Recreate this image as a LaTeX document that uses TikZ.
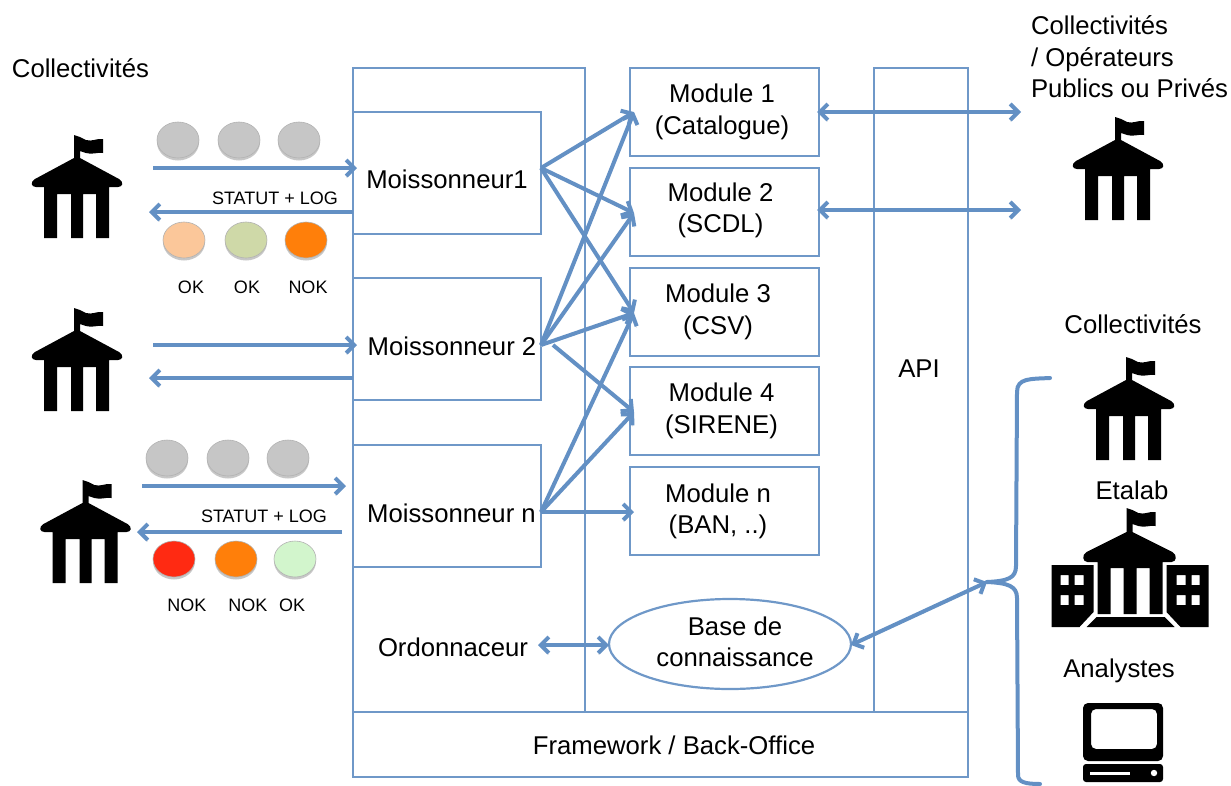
\documentclass[tikz,border=0pt]{standalone}
\usepackage{fontspec}
\setmainfont{Liberation Sans}
\usetikzlibrary{arrows.meta,shapes.geometric}
\definecolor{lineblue}{HTML}{6F98C8}
\definecolor{arrowblue}{HTML}{6390C4}
\definecolor{dotgrey}{HTML}{C6C6C6}
\definecolor{dotpeach}{HTML}{FBC79A}
\definecolor{dotgreen}{HTML}{CFD9A8}
\definecolor{dotorange}{HTML}{FF7F0A}
\definecolor{dotred}{HTML}{FF2A12}
\definecolor{dotpale}{HTML}{D2F5CC}
\tikzset{
  x=1pt,y=-1pt,
  panel/.style={draw=lineblue,line width=2.2pt,fill=none,inner sep=0pt,outer sep=0pt},
  label/.style={inner sep=0pt,outer sep=0pt,align=center,font=\fontsize{25.7}{31.5}\selectfont},
  small/.style={inner sep=0pt,outer sep=0pt,font=\fontsize{18}{22}\selectfont},
  softshadow/.style={preaction={draw=black!13,transform canvas={yshift=-1.6pt}}},
  flow/.style={draw=arrowblue,line width=4pt,softshadow,-{Straight Barb[length=8pt,width=16pt,line width=4pt]}},
  twoway/.style={draw=arrowblue,line width=4pt,softshadow,{Straight Barb[length=8pt,width=16pt,line width=4pt]}-{Straight Barb[length=8pt,width=16pt,line width=4pt]}},
  plainblue/.style={draw=arrowblue,line width=4pt,line cap=round},
  dot/.style={ellipse,minimum width=42pt,minimum height=36pt,inner sep=0pt,outer sep=0pt,draw=black!30,line width=.6pt,
    preaction={draw=none,fill=black!22,transform canvas={yshift=-2.5pt}}},
  school/.pic={
    \fill[black] (-3,-52) -- (3,-50) -- (9,-47) .. controls (15,-45) and (20,-49) .. (26,-48)
       -- (26,-34) .. controls (20,-35) and (15,-32) .. (9,-34) -- (3,-36) -- (3,-29) -- (42,-8)
       .. controls (47,-5) and (46,0) .. (41,0) -- (32,0) -- (32,51) -- (19,51) -- (19,7) -- (6,7) -- (6,51)
       -- (-6,51) -- (-6,7) -- (-20,7) -- (-20,51) -- (-33,51) -- (-33,0) -- (-41,0)
       .. controls (-46,0) and (-47,-5) .. (-42,-8) -- (-3,-29) -- cycle;
  },
  campus/.pic={
    \fill[black] (-3,-52) -- (3,-50) -- (9,-47) .. controls (15,-45) and (20,-49) .. (26,-48)
       -- (26,-34) .. controls (20,-35) and (15,-32) .. (9,-34) -- (3,-36) -- (3,-28) -- (43,-8)
       .. controls (48,-5) and (47,2) .. (42,2) -- (33,2) -- (33,54) -- (20,54) -- (20,8) -- (7,8) -- (7,54)
       -- (-6,54) -- (-6,8) -- (-19,8) -- (-19,54) -- (-32,54) -- (-32,2) -- (-42,2)
       .. controls (-47,2) and (-48,-5) .. (-43,-8) -- (-3,-28) -- cycle;
    \fill[black] (-33,57) -- (35,57) -- (45,67) -- (-43,67) -- cycle;
    \fill[black,even odd rule] (-78,5) -- (-36,5) -- (-36,52) -- (-50,67) -- (-78,67) -- cycle
       (-69,15) rectangle (-61,25) (-55,15) rectangle (-46,25)
       (-69,35) rectangle (-61,45) (-55,35) rectangle (-46,45);
    \fill[black,even odd rule] (79,5) -- (37,5) -- (37,52) -- (51,67) -- (79,67) -- cycle
       (70,15) rectangle (62,25) (56,15) rectangle (47,25)
       (70,35) rectangle (62,45) (56,35) rectangle (47,45);
  },
  computer/.pic={
    \fill[black,even odd rule,rounded corners=5pt] (-40,-39) rectangle (40,19) (-32,-33) rectangle (34,7);
    \fill[black,rounded corners=3pt] (-40,22) rectangle (40,40);
    \fill[white] (-33,30) rectangle (7,32.5);
    \fill[white] (31,31) circle (3.2);
  },
}
\begin{document}
\begin{tikzpicture}
\useasboundingbox (0,0) rectangle (1231,785);
% panels
\node[panel,minimum width=232pt,minimum height=644pt] (harvest) at (469,390) {};
\node[panel,minimum width=94pt,minimum height=644pt] (api) at (921,390) {};
\node[panel,minimum width=615pt,minimum height=65pt] (framework) at (660.5,744.5) {};
\node[label] at (674,745) (frameworktxt) {Framework / Back-Office};
\node[label] (apitxt) at (919,369) {API};
\node[panel,minimum width=188pt,minimum height=122pt] (m1) at (447,173) {};
\node[label] (m1txt) at (447,179) {Moissonneur1};
\node[panel,minimum width=188pt,minimum height=122pt] (m2) at (447,339) {};
\node[label] (m2txt) at (452,346) {Moissonneur 2};
\node[panel,minimum width=188pt,minimum height=122pt] (mn) at (447,506) {};
\node[label] (mntxt) at (451.5,513) {Moissonneur n};
\node[panel,minimum width=189pt,minimum height=88pt] (mod1) at (724.5,112) {};
\node[panel,minimum width=189pt,minimum height=88pt] (mod2) at (724.5,212) {};
\node[panel,minimum width=189pt,minimum height=88pt] (mod3) at (724.5,312) {};
\node[panel,minimum width=189pt,minimum height=88pt] (mod4) at (724.5,411) {};
\node[panel,minimum width=189pt,minimum height=88pt] (modn) at (724.5,511) {};
\node[label] (mod1txt) at (722,112) {Module 1\\(Catalogue)};
\node[label] (mod2txt) at (720.5,210.5) {Module 2\\(SCDL)};
\node[label] (mod3txt) at (718,312) {Module 3\\(CSV)};
\node[label] (mod4txt) at (721.5,411) {Module 4\\(SIRENE)};
\node[label] (modntxt) at (718,511.5) {Module n\\(BAN, ..)};
\node[panel,ellipse,minimum width=242pt,minimum height=90pt] (kb) at (730,644) {};
\node[label] (kbtxt) at (735,642) {Base de\\connaissance};
\node[label] (ord) at (453,647) {Ordonnaceur};
% labels
\node[label] (tl) at (80.5,68) {Collectivités};
\node[label,align=left,anchor=west] (tr) at (1031,57) {Collectivités\\/ Opérateurs\\Publics ou Privés};
\node[label] (rc) at (1133,324) {Collectivités};
\node[label] (re) at (1132,490) {Etalab};
\node[label] (ra) at (1119,671) {Analystes};
% icons
\pic (i1) at (77,187) {school};
\pic (i2) at (77,360) {school};
\pic (i3) at (85.5,532) {school};
\pic (i4) at (1118,169) {school};
\pic (i5) at (1129,409) {school};
\pic (i6) at (1129.5,560) {campus};
\pic (i7) at (1123,742) {computer};
% dots
\node[dot,fill=dotgrey] (g1) at (178,140) {};
\node[dot,fill=dotgrey] (g2) at (239,140) {};
\node[dot,fill=dotgrey] (g3) at (299,140) {};
\node[dot,fill=dotpeach] (s1) at (184,240) {};
\node[dot,fill=dotgreen] (s2) at (246,240) {};
\node[dot,fill=dotorange] (s3) at (306,240) {};
\node[dot,fill=dotgrey] (g4) at (167,458) {};
\node[dot,fill=dotgrey] (g5) at (228,458) {};
\node[dot,fill=dotgrey] (g6) at (288,458) {};
\node[dot,fill=dotred] (s4) at (174,559) {};
\node[dot,fill=dotorange] (s5) at (236,559) {};
\node[dot,fill=dotpale] (s6) at (295,559) {};
\node[small] (st1) at (275,198) {STATUT + LOG};
\node[small] (st2) at (264,516) {STATUT + LOG};
\node[small] (o1) at (191,287) {OK};
\node[small] (o2) at (247,287) {OK};
\node[small] (o3) at (308,287) {NOK};
\node[small] (o4) at (187,605) {NOK};
\node[small] (o5) at (248,605) {NOK};
\node[small] (o6) at (292,605) {OK};
% connector ends
\coordinate (a1l) at (153,168); \coordinate (a1r) at (357,168);
\coordinate (b1r) at (353,212); \coordinate (b1l) at (149,212);
\coordinate (a2l) at (153,345); \coordinate (a2r) at (357,345);
\coordinate (b2r) at (353,378); \coordinate (b2l) at (149,378);
\coordinate (a3l) at (142,486); \coordinate (a3r) at (346,486);
\coordinate (b3r) at (342,532); \coordinate (b3l) at (137,532);
\coordinate (m1o) at (541,168); \coordinate (m2o) at (541,345); \coordinate (m2p) at (553,345); \coordinate (mno) at (541,512);
\coordinate (t1) at (634,112); \coordinate (t2) at (634,213); \coordinate (t3) at (634,313); \coordinate (t4) at (634,412); \coordinate (t5) at (634,512);
\coordinate (e1) at (1021,112); \coordinate (e2) at (1021,210);
\coordinate (d1) at (817,112); \coordinate (d2) at (817,210);
\coordinate (ol) at (538,645); \coordinate (or) at (609,645);
\coordinate (kr) at (851,645); \coordinate (tip) at (987,582);
% flows
\draw[flow] (a1l) -- (a1r);
\draw[flow] (b1r) -- (b1l);
\draw[flow] (a2l) -- (a2r);
\draw[flow] (b2r) -- (b2l);
\draw[flow] (a3l) -- (a3r);
\draw[flow] (b3r) -- (b3l);
\draw[flow] (m1o) -- (t1);
\draw[flow] (m1o) -- (t2);
\draw[flow] (m1o) -- (t3);
\draw[flow] (m2o) -- (t1);
\draw[flow] (m2o) -- (t2);
\draw[flow] (m2o) -- (t3);
\draw[flow] (m2p) -- (t4);
\draw[flow] (mno) -- (t3);
\draw[flow] (mno) -- (t4);
\draw[flow] (mno) -- (t5);
\draw[twoway] (d1) -- (e1);
\draw[twoway] (d2) -- (e2);
\draw[twoway] (ol) -- (or);
\draw[twoway] (kr) -- (tip);
% brace
\coordinate (br1) at (1050,378);
\coordinate (br2) at (1040,784);
\draw[plainblue] (br1) .. controls (1030,379) and (1017,378) .. (1017,392) -- (1016,566)
   .. controls (1016,578) and (1008,581) .. (tip);
\draw[plainblue] (tip) .. controls (1008,583) and (1017,586) .. (1017,598) -- (1018,775)
   .. controls (1018,782) and (1025,784) .. (br2);
\end{tikzpicture}
\end{document}
